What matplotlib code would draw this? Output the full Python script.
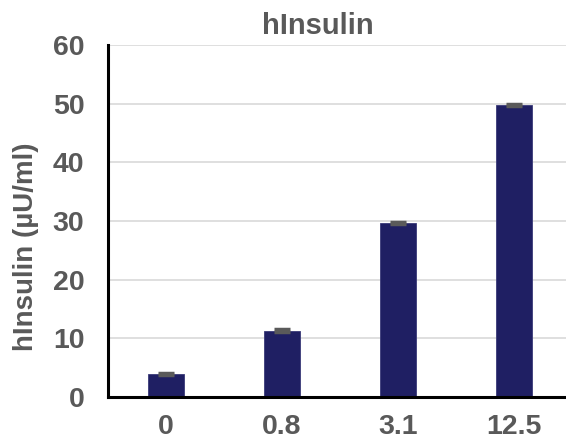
import numpy as np
import matplotlib.pyplot as plt

plt.rcParams['font.family'] = ['Liberation Sans', 'DejaVu Sans']

doses = ["0", "0.8", "3.1", "12.5"]
insulin = [3.9, 11.3, 29.7, 49.8]
err = [0.2, 0.25, 0.15, 0.15]

text_col = "#595959"
bar_col = "#1f1f63"

fig = plt.figure(figsize=(5.66, 4.45), dpi=100)
ax = fig.add_axes([108 / 566, 48 / 445, 464 / 566, 352 / 445])

x = np.arange(len(doses))
ax.bar(x, insulin, width=0.31, color=bar_col, edgecolor="#3a3a78", linewidth=0.6, zorder=3)
ax.errorbar(x, insulin, yerr=err, fmt="none", ecolor="#5a5a5a", elinewidth=1.5,
            capsize=6, capthick=2.5, zorder=4)

ax.set_xlim(-0.5, 3.5)
ax.set_ylim(0, 60)
ax.set_yticks(range(0, 61, 10))
ax.set_xticks(x)
ax.set_xticklabels(doses)
ax.yaxis.grid(True, color="#d9d9d9", linewidth=1.2, zorder=0)
ax.set_axisbelow(True)

for s in ["top", "right"]:
    ax.spines[s].set_visible(False)
for s in ["left", "bottom"]:
    ax.spines[s].set_linewidth(2.2)
    ax.spines[s].set_color("black")
    ax.spines[s].set_zorder(5)

ax.tick_params(axis="y", length=0, pad=17, labelsize=20.5, labelcolor=text_col)
ax.tick_params(axis="x", length=0, pad=12, labelsize=20.5, labelcolor=text_col)
for lab in ax.get_xticklabels() + ax.get_yticklabels():
    lab.set_fontweight("bold")

ax.set_ylabel("hInsulin (µU/ml)", fontsize=20, fontweight="bold", color=text_col)
ax.yaxis.set_label_coords(-0.149, 0.426)
ax.set_title("hInsulin", fontsize=21, fontweight="bold", color=text_col, pad=8, x=0.4526)

plt.savefig("out.png", dpi=100)
